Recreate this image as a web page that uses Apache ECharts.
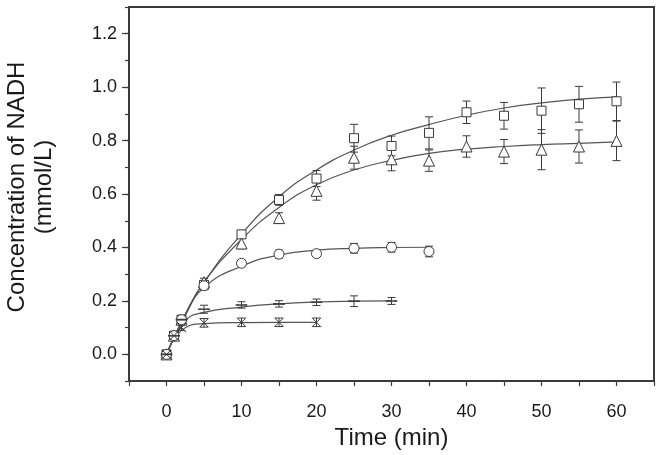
<!DOCTYPE html>
<html>
<head>
<meta charset="utf-8">
<script src="https://cdn.jsdelivr.net/npm/echarts@6/dist/echarts.min.js"></script>
<style>
  html, body { margin: 0; padding: 0; background: #fff; }
  #chart { width: 662px; height: 455px; }
</style>
</head>
<body>
<div id="chart"></div>
<script>
// --- measured points (time in min, NADH in mmol/L) ---
const timeLong = [0, 1, 2, 5, 10, 15, 20, 25, 30, 35, 40, 45, 50, 55, 60];
const squareVals = [0, 0.07, 0.13, 0.26, 0.449, 0.578, 0.658, 0.809, 0.78, 0.829, 0.906, 0.893, 0.912, 0.936, 0.947];
const squareErr = [0.005, 0.01, 0.012, 0.015, 0.015, 0.02, 0.03, 0.052, 0.037, 0.06, 0.042, 0.05, 0.085, 0.067, 0.072];
const triangleVals = [0, 0.07, 0.13, 0.27, 0.415, 0.51, 0.612, 0.736, 0.73, 0.725, 0.778, 0.759, 0.766, 0.778, 0.799];
const triangleErr = [0.005, 0.01, 0.012, 0.015, 0.02, 0.02, 0.035, 0.043, 0.043, 0.04, 0.04, 0.045, 0.075, 0.062, 0.074];

const timeCircle = [0, 1, 2, 5, 10, 15, 20, 25, 30, 35];
const circleVals = [0, 0.07, 0.13, 0.257, 0.341, 0.375, 0.377, 0.397, 0.401, 0.385];
const circleErr = [0.005, 0.01, 0.01, 0.015, 0.012, 0.015, 0.01, 0.018, 0.018, 0.02];

const timeDash = [0, 1, 2, 5, 10, 15, 20, 25, 30];
const dashVals = [0, 0.07, 0.13, 0.169, 0.185, 0.189, 0.195, 0.199, 0.2];
const dashErr = [0.005, 0.01, 0.01, 0.015, 0.012, 0.012, 0.012, 0.02, 0.013];

const timeCross = [0, 1, 2, 5, 10, 15, 20];
const crossVals = [0, 0.07, 0.1, 0.118, 0.12, 0.12, 0.12];
const crossErr = [0.005, 0.01, 0.01, 0.016, 0.016, 0.016, 0.016];

// --- fitted curves ---
const fitTimeLong = [0, 2.5, 5, 10, 15, 20, 25, 30, 35, 40, 45, 50, 55, 60];
const fitSquare = [0, 0.15, 0.27, 0.45, 0.59, 0.69, 0.765, 0.82, 0.86, 0.895, 0.922, 0.941, 0.955, 0.964];
const fitTriangle = [0, 0.15, 0.27, 0.43, 0.55, 0.635, 0.69, 0.726, 0.752, 0.768, 0.778, 0.785, 0.79, 0.795];
const fitTimeCircle = [0, 2.5, 5, 10, 15, 20, 25, 30, 35];
const fitCircle = [0, 0.145, 0.25, 0.33, 0.372, 0.39, 0.397, 0.4, 0.401];
const fitTimeDash = [0, 2.5, 5, 10, 15, 20, 25, 30];
const fitDash = [0, 0.125, 0.157, 0.177, 0.189, 0.196, 0.199, 0.2];
const fitTimeCross = [0, 2.5, 5, 10, 15, 20];
const fitCross = [0, 0.1, 0.115, 0.119, 0.12, 0.12];

// --- tick labels ---
const xTickLabels = [0, 10, 20, 30, 40, 50, 60];
const yTickLabels = [0, 0.2, 0.4, 0.6, 0.8, 1.0, 1.2];

const INK = '#3a3a3a';
const FONT = 'Liberation Sans, Arial, sans-serif';

const pairs = (xs, ys) => xs.map((x, i) => [x, ys[i]]);
const errRows = (xs, ys, es) => xs.map((x, i) => [x, ys[i] - es[i], ys[i] + es[i]]);

// vertical error bar with caps
const renderErr = (params, api) => {
  const lo = api.coord([api.value(0), api.value(1)]);
  const hi = api.coord([api.value(0), api.value(2)]);
  const w = 4;
  const style = { stroke: INK, lineWidth: 1, fill: null };
  return {
    type: 'group',
    children: [
      { type: 'line', shape: { x1: lo[0], y1: lo[1], x2: hi[0], y2: hi[1] }, style },
      { type: 'line', shape: { x1: lo[0] - w, y1: lo[1], x2: lo[0] + w, y2: lo[1] }, style },
      { type: 'line', shape: { x1: hi[0] - w, y1: hi[1], x2: hi[0] + w, y2: hi[1] }, style }
    ]
  };
};

const fitLine = (name, xs, ys) => ({
  name,
  type: 'line',
  data: pairs(xs, ys),
  smooth: 0.5,
  showSymbol: false,
  symbol: 'none',
  lineStyle: { color: '#555', width: 1.2 },
  z: 2,
  silent: true
});

const errSeries = (xs, ys, es) => ({
  type: 'custom',
  renderItem: renderErr,
  data: errRows(xs, ys, es),
  z: 3,
  silent: true
});

const markers = (xs, ys, symbol, size, filled) => ({
  type: 'scatter',
  data: pairs(xs, ys),
  symbol,
  symbolSize: size,
  itemStyle: {
    color: filled ? INK : '#fff',
    borderColor: INK,
    borderWidth: 1,
    opacity: 1
  },
  z: 4,
  silent: true
});

const chart = echarts.init(document.getElementById('chart'));

const option = {
  animation: false,
  grid: {
    left: 129, right: 8, top: 7, bottom: 62,
    show: true,
    borderColor: INK,
    borderWidth: 2
  },
  xAxis: {
    type: 'value',
    min: -5,
    max: 65,
    interval: 5,
    name: 'Time (min)',
    nameLocation: 'middle',
    nameGap: 37,
    nameTextStyle: { fontFamily: FONT, fontSize: 24, color: '#1a1a1a' },
    axisLine: { show: true, onZero: false, lineStyle: { color: INK, width: 2 } },
    axisTick: { show: true, inside: false, length: 5, lineStyle: { color: INK, width: 1.2 } },
    axisLabel: {
      customValues: xTickLabels,
      fontFamily: FONT, fontSize: 18, color: '#1a1a1a', margin: 22
    },
    splitLine: { show: false }
  },
  yAxis: [
    {
      type: 'value',
      min: -0.1,
      max: 1.3,
      interval: 0.1,
      axisLine: { show: true, onZero: false, lineStyle: { color: INK, width: 2 } },
      axisTick: { show: true, customValues: yTickLabels, length: 7, lineStyle: { color: INK, width: 1.2 } },
      axisLabel: {
        customValues: yTickLabels,
        formatter: v => v.toFixed(1),
        fontFamily: FONT, fontSize: 18, color: '#1a1a1a', margin: 12
      },
      splitLine: { show: false }
    },
    {
      // minor ticks
      type: 'value',
      position: 'left',
      min: -0.1,
      max: 1.3,
      interval: 0.1,
      axisLine: { show: false, onZero: false },
      axisTick: { show: true, length: 4, lineStyle: { color: INK, width: 1.2 } },
      axisLabel: { show: false },
      splitLine: { show: false }
    }
  ],
  graphic: [
    {
      type: 'text',
      x: 31,
      y: 187,
      rotation: Math.PI / 2,
      style: {
        text: 'Concentration of NADH\n(mmol/L)',
        fontFamily: FONT,
        fontSize: 24,
        lineHeight: 27,
        fill: '#1a1a1a',
        align: 'center',
        verticalAlign: 'middle'
      }
    }
  ],
  series: [
    fitLine('fit-square', fitTimeLong, fitSquare),
    fitLine('fit-triangle', fitTimeLong, fitTriangle),
    fitLine('fit-circle', fitTimeCircle, fitCircle),
    fitLine('fit-dash', fitTimeDash, fitDash),
    fitLine('fit-cross', fitTimeCross, fitCross),

    errSeries(timeLong, squareVals, squareErr),
    errSeries(timeLong, triangleVals, triangleErr),
    errSeries(timeCircle, circleVals, circleErr),
    errSeries(timeDash, dashVals, dashErr),
    errSeries(timeCross, crossVals, crossErr),

    markers(timeLong, squareVals, 'rect', 9, false),
    markers(timeLong, triangleVals, 'triangle', 11, false),
    markers(timeCircle, circleVals, 'circle', 10, false),
    markers(timeDash, dashVals, 'rect', [9, 1.2], true),
    markers(timeCross, crossVals, 'path://M0,0L10,10M10,0L0,10', 9, true)
  ]
};

chart.setOption(option);
</script>
</body>
</html>
